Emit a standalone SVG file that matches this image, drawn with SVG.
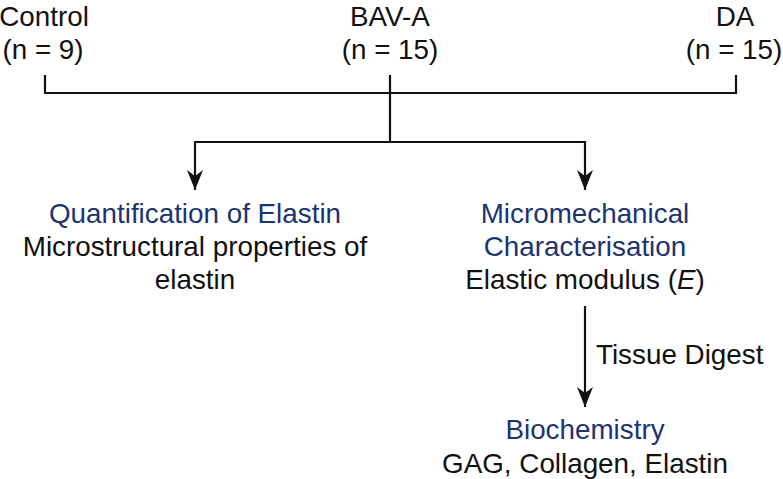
<svg xmlns="http://www.w3.org/2000/svg" width="783" height="479" viewBox="0 0 783 479">
<defs>
<style>
text{font-family:"Liberation Sans",Arial,Helvetica,sans-serif;font-size:27.8px;fill:#111;text-anchor:middle}
.b{fill:#1c3470}
.ln{fill:none;stroke:#111;stroke-width:2.2}
</style>
<marker id="ad" markerUnits="userSpaceOnUse" markerWidth="20" markerHeight="24" viewBox="-10 -22 20 24" refX="0" refY="0" orient="0">
<path d="M-8,-20 L0,-14 L8,-20 L0,0 Z" fill="#111"/>
</marker>
</defs>
<g id="control"><text x="44" y="26">Control</text><text x="43" y="59">(n = 9)</text></g>
<g id="bava"><text x="390" y="26">BAV-A</text><text x="390" y="59">(n = 15)</text></g>
<g id="da"><text x="735" y="26">DA</text><text x="734" y="59">(n = 15)</text></g>
<g id="quant"><text class="b" x="195" y="223">Quantification of Elastin</text><text x="195" y="256">Microstructural properties of</text><text x="195" y="289">elastin</text></g>
<g id="micro"><text class="b" x="585" y="223">Micromechanical</text><text class="b" x="585" y="256">Characterisation</text><text x="585" y="289">Elastic modulus (<tspan font-style="italic">E</tspan>)</text></g>
<g id="bio"><text class="b" x="585" y="439">Biochemistry</text><text x="585" y="473">GAG, Collagen, Elastin</text></g>
<g id="connectors">
<path class="ln" d="M45,75 V93 H736 V75 M390,75 V142"/>
<path class="ln" d="M390,142 H195 V190" marker-end="url(#ad)"/>
<path class="ln" d="M390,142 H585 V190" marker-end="url(#ad)"/>
<path class="ln" d="M585,306 V407" marker-end="url(#ad)"/>
<text x="596" y="364" style="text-anchor:start">Tissue Digest</text>
</g>
</svg>
